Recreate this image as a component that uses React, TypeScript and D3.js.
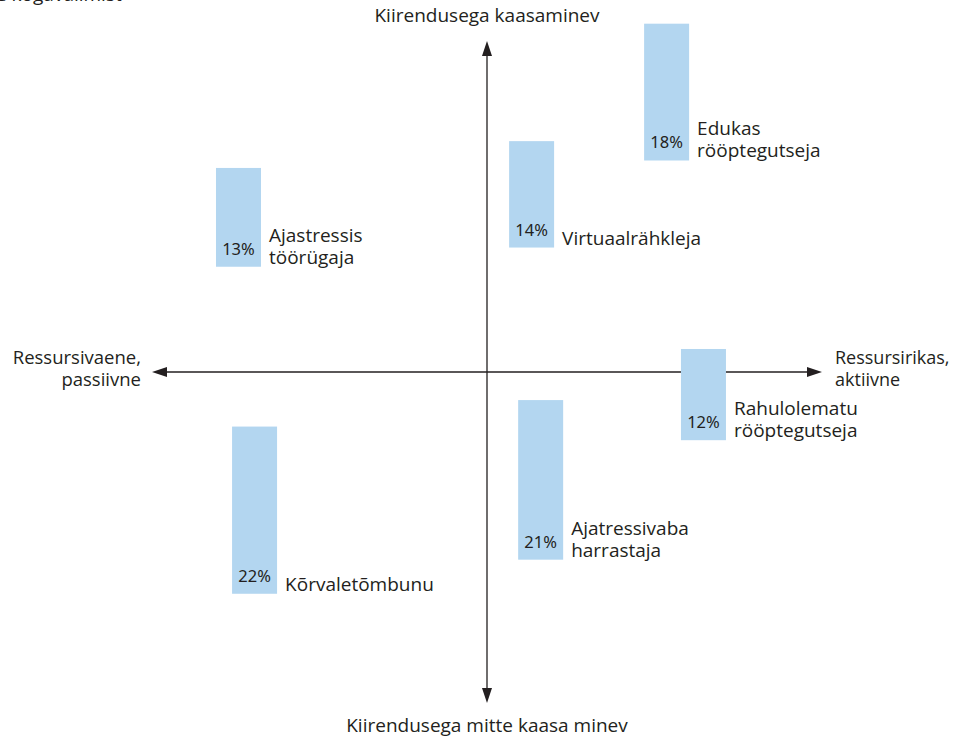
import React from "react";
import * as d3 from "d3";

const segments = [
  ["Edukas", "rööptegutseja"],
  ["Ajastressis", "töörügaja"],
  ["Virtuaalrähkleja"],
  ["Rahulolematu", "rööptegutseja"],
  ["Ajatressivaba", "harrastaja"],
  ["Kõrvaletõmbunu"],
];
const shares = [18, 13, 14, 12, 21, 22];
// conceptual quadrant positions (-1..1): resource axis and acceleration axis
const resourcePos = [0.469, -0.809, 0.066, 0.579, 0.093, -0.761];
const accelPos = [0.639, 0.318, 0.376, -0.206, -0.567, -0.67];

const axisLabels = {
  top: "Kiirendusega kaasaminev",
  bottom: "Kiirendusega mitte kaasa minev",
  left: ["Ressursivaene,", "passiivne"],
  right: ["Ressursirikas,", "aktiivne"],
};

const W = 954;
const H = 739;
const CX = 487;
const CY = 372;

const x = d3.scaleLinear().domain([-1, 1]).range([CX - 335, CX + 335]);
const y = d3.scaleLinear().domain([-1, 1]).range([CY + 331, CY - 331]);
const h = d3.scaleLinear().domain([0, 100]).range([0, 760]);

const BAR_W = 45;
const TEXT = "#231f20";
const BAR = "#b3d6f0";
const FONT = "'Open Sans', 'Noto Sans', sans-serif";

export default function App() {
  const ax = 1.3;
  const tipL = x(-1);
  const tipR = x(1);
  const tipT = y(1);
  const tipB = y(-1);
  return (
    <svg
      width={W}
      height={H}
      style={{ position: "absolute", left: 0, top: 0, background: "#fff" }}
      fontFamily={FONT}
    >
      <text x={-4} y={1} fontSize={19} fill={TEXT}>
        e kogavalimist
      </text>
      {/* axes */}
      <line x1={tipL + 8} x2={tipR - 8} y1={CY} y2={CY} stroke={TEXT} strokeWidth={ax} />
      <line x1={CX} x2={CX} y1={tipT + 8} y2={tipB - 8} stroke={TEXT} strokeWidth={ax} />
      <path d={`M${tipL},${CY} L${tipL + 15},${CY - 5} L${tipL + 15},${CY + 5} Z`} fill={TEXT} />
      <path d={`M${tipR},${CY} L${tipR - 15},${CY - 5} L${tipR - 15},${CY + 5} Z`} fill={TEXT} />
      <path d={`M${CX},${tipT} L${CX - 5},${tipT + 15} L${CX + 5},${tipT + 15} Z`} fill={TEXT} />
      <path d={`M${CX},${tipB} L${CX - 5},${tipB - 15} L${CX + 5},${tipB - 15} Z`} fill={TEXT} />

      <text x={CX} y={22} textAnchor="middle" fontSize={19} fill={TEXT}>
        {axisLabels.top}
      </text>
      <text x={CX} y={732} textAnchor="middle" fontSize={19} fill={TEXT}>
        {axisLabels.bottom}
      </text>
      {axisLabels.left.map((t, i) => (
        <text key={t} x={141} y={364 + i * 22} textAnchor="end" fontSize={18.5} fill={TEXT}>
          {t}
        </text>
      ))}
      {axisLabels.right.map((t, i) => (
        <text key={t} x={835} y={364 + i * 22} fontSize={18} fill={TEXT}>
          {t}
        </text>
      ))}

      {segments.map((lines, i) => {
        const left = x(resourcePos[i]);
        const bottom = y(accelPos[i]);
        const bh = h(shares[i]);
        return (
          <g key={i}>
            <rect x={left} y={bottom - bh} width={BAR_W} height={bh} fill={BAR} />
            <text
              x={left + BAR_W / 2}
              y={bottom - 12}
              textAnchor="middle"
              fontSize={16.5}
              fill={TEXT}
              fontFamily="'Noto Sans', sans-serif"
            >
              {shares[i]}%
            </text>
            {lines.map((t, j) => (
              <text
                key={j}
                x={left + BAR_W + 8}
                y={bottom - 3 - (lines.length - 1 - j) * 22}
                fontSize={19}
                fill={TEXT}
              >
                {t}
              </text>
            ))}
          </g>
        );
      })}
    </svg>
  );
}
